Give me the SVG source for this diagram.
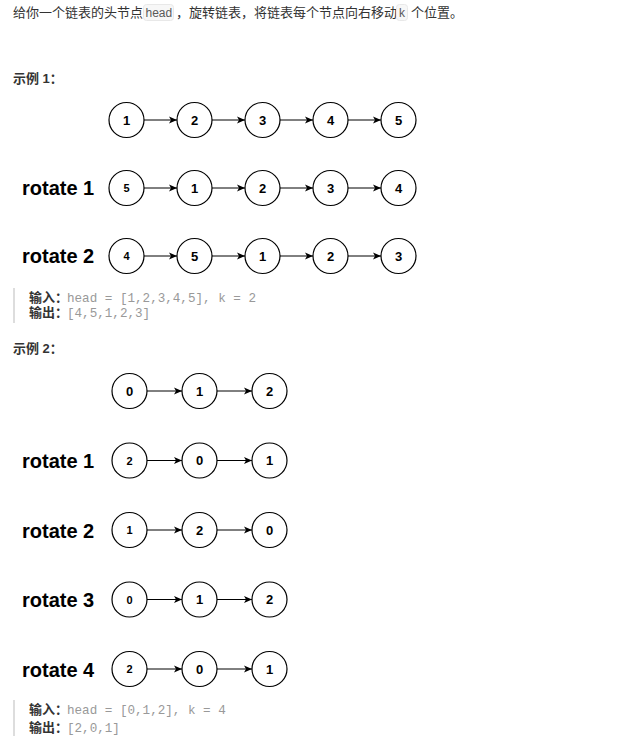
<svg xmlns="http://www.w3.org/2000/svg" width="622" height="748" viewBox="0 0 622 748">
<style>
.cjk{font-family:"Liberation Sans","Noto Sans CJK SC",sans-serif;font-size:13px;fill:#333}
.b{font-weight:bold}
.mono{font-family:"Liberation Mono","DejaVu Sans Mono",monospace;font-size:12.6px;fill:#999}
.code{font-family:"Liberation Sans",sans-serif;font-size:12px;fill:#5a5a5a}
.codebox{fill:#f7f7f7;stroke:#e8e8e8;stroke-width:1}
.lbl{font-family:"Liberation Sans",Arial,sans-serif;font-size:20px;font-weight:bold;fill:#000}
.node circle{fill:#fff;stroke:#000;stroke-width:1.2}
.node text{font-family:"Liberation Sans",Arial,sans-serif;font-weight:bold;font-size:13px;text-anchor:middle;fill:#000}
.node text.s{font-size:11px}
.conn line{stroke:#000;stroke-width:1;marker-end:url(#ah)}
.bar{stroke:#ddd;stroke-width:2}
</style>
<defs>
<marker id="ah" markerUnits="userSpaceOnUse" markerWidth="9" markerHeight="8" refX="8" refY="4" orient="auto">
<path d="M0,0.6 L8,4 L0,7.4 L2,4 Z" fill="#000"/>
</marker>
</defs>
<rect width="622" height="748" fill="#fff"/>
<g id="header">
<text class="cjk" x="13" y="17">给你一个链表的头节点</text>
<rect class="codebox" x="143.5" y="4.5" width="30" height="16" rx="3"/>
<text class="code" x="145.5" y="16.5">head</text>
<text class="cjk" x="176" y="17">，旋转链表，将链表每个节点向右移动</text>
<rect class="codebox" x="396.5" y="4.5" width="11" height="16" rx="3"/>
<text class="code" x="399" y="16.5">k</text>
<text class="cjk" x="411" y="17">个位置。</text>
</g>
<text class="cjk b" x="13" y="83">示例 1：</text>
<g id="labels1">
<text class="lbl" x="22" y="195">rotate 1</text>
<text class="lbl" x="22" y="263">rotate 2</text>
</g>
<g id="io1">
<line class="bar" x1="14" y1="288" x2="14" y2="323"/>
<text class="cjk b" x="29" y="302">输入：</text>
<text class="mono" x="67" y="302">head = [1,2,3,4,5], k = 2</text>
<text class="cjk b" x="29" y="317">输出：</text>
<text class="mono" x="67" y="317">[4,5,1,2,3]</text>
</g>
<text class="cjk b" x="13" y="353">示例 2：</text>
<g id="labels2">
<text class="lbl" x="22" y="468">rotate 1</text>
<text class="lbl" x="22" y="538">rotate 2</text>
<text class="lbl" x="22" y="607">rotate 3</text>
<text class="lbl" x="22" y="677">rotate 4</text>
</g>
<g id="io2">
<line class="bar" x1="14" y1="700" x2="14" y2="736"/>
<text class="cjk b" x="29" y="714">输入：</text>
<text class="mono" x="67" y="714">head = [0,1,2], k = 4</text>
<text class="cjk b" x="29" y="732">输出：</text>
<text class="mono" x="67" y="732">[2,0,1]</text>
</g>
<g id="connectors" class="conn">
<line x1="144" y1="120" x2="177" y2="120"/>
<line x1="212" y1="120" x2="245" y2="120"/>
<line x1="280" y1="120" x2="313" y2="120"/>
<line x1="348" y1="120" x2="381" y2="120"/>
<line x1="144" y1="188" x2="177" y2="188"/>
<line x1="212" y1="188" x2="245" y2="188"/>
<line x1="280" y1="188" x2="313" y2="188"/>
<line x1="348" y1="188" x2="381" y2="188"/>
<line x1="144" y1="256" x2="177" y2="256"/>
<line x1="212" y1="256" x2="245" y2="256"/>
<line x1="280" y1="256" x2="313" y2="256"/>
<line x1="348" y1="256" x2="381" y2="256"/>
<line x1="147" y1="391" x2="182" y2="391"/>
<line x1="217" y1="391" x2="252" y2="391"/>
<line x1="147" y1="460.5" x2="182" y2="460.5"/>
<line x1="217" y1="460.5" x2="252" y2="460.5"/>
<line x1="147" y1="530" x2="182" y2="530"/>
<line x1="217" y1="530" x2="252" y2="530"/>
<line x1="147" y1="599.5" x2="182" y2="599.5"/>
<line x1="217" y1="599.5" x2="252" y2="599.5"/>
<line x1="147" y1="669" x2="182" y2="669"/>
<line x1="217" y1="669" x2="252" y2="669"/>
</g>
<g id="nodes1">
<g id="e1r0n1" class="node"><circle cx="126.5" cy="120" r="17.5"/><text x="126.5" y="124.7">1</text></g>
<g id="e1r0n2" class="node"><circle cx="194.5" cy="120" r="17.5"/><text x="194.5" y="124.7">2</text></g>
<g id="e1r0n3" class="node"><circle cx="262.5" cy="120" r="17.5"/><text x="262.5" y="124.7">3</text></g>
<g id="e1r0n4" class="node"><circle cx="330.5" cy="120" r="17.5"/><text x="330.5" y="124.7">4</text></g>
<g id="e1r0n5" class="node"><circle cx="398.5" cy="120" r="17.5"/><text x="398.5" y="124.7">5</text></g>
<g id="e1r1n1" class="node"><circle cx="126.5" cy="188" r="17.5"/><text class="s" x="126.5" y="192">5</text></g>
<g id="e1r1n2" class="node"><circle cx="194.5" cy="188" r="17.5"/><text x="194.5" y="192.7">1</text></g>
<g id="e1r1n3" class="node"><circle cx="262.5" cy="188" r="17.5"/><text x="262.5" y="192.7">2</text></g>
<g id="e1r1n4" class="node"><circle cx="330.5" cy="188" r="17.5"/><text x="330.5" y="192.7">3</text></g>
<g id="e1r1n5" class="node"><circle cx="398.5" cy="188" r="17.5"/><text x="398.5" y="192.7">4</text></g>
<g id="e1r2n1" class="node"><circle cx="126.5" cy="256" r="17.5"/><text class="s" x="126.5" y="260">4</text></g>
<g id="e1r2n2" class="node"><circle cx="194.5" cy="256" r="17.5"/><text x="194.5" y="260.7">5</text></g>
<g id="e1r2n3" class="node"><circle cx="262.5" cy="256" r="17.5"/><text x="262.5" y="260.7">1</text></g>
<g id="e1r2n4" class="node"><circle cx="330.5" cy="256" r="17.5"/><text x="330.5" y="260.7">2</text></g>
<g id="e1r2n5" class="node"><circle cx="398.5" cy="256" r="17.5"/><text x="398.5" y="260.7">3</text></g>
</g>
<g id="nodes2">
<g id="e2r0n1" class="node"><circle cx="129.5" cy="391" r="17.5"/><text x="129.5" y="395.7">0</text></g>
<g id="e2r0n2" class="node"><circle cx="199.5" cy="391" r="17.5"/><text x="199.5" y="395.7">1</text></g>
<g id="e2r0n3" class="node"><circle cx="269.5" cy="391" r="17.5"/><text x="269.5" y="395.7">2</text></g>
<g id="e2r1n1" class="node"><circle cx="129.5" cy="460.5" r="17.5"/><text class="s" x="129.5" y="464.5">2</text></g>
<g id="e2r1n2" class="node"><circle cx="199.5" cy="460.5" r="17.5"/><text x="199.5" y="465.2">0</text></g>
<g id="e2r1n3" class="node"><circle cx="269.5" cy="460.5" r="17.5"/><text x="269.5" y="465.2">1</text></g>
<g id="e2r2n1" class="node"><circle cx="129.5" cy="530" r="17.5"/><text class="s" x="129.5" y="534">1</text></g>
<g id="e2r2n2" class="node"><circle cx="199.5" cy="530" r="17.5"/><text x="199.5" y="534.7">2</text></g>
<g id="e2r2n3" class="node"><circle cx="269.5" cy="530" r="17.5"/><text x="269.5" y="534.7">0</text></g>
<g id="e2r3n1" class="node"><circle cx="129.5" cy="599.5" r="17.5"/><text class="s" x="129.5" y="603.5">0</text></g>
<g id="e2r3n2" class="node"><circle cx="199.5" cy="599.5" r="17.5"/><text x="199.5" y="604.2">1</text></g>
<g id="e2r3n3" class="node"><circle cx="269.5" cy="599.5" r="17.5"/><text x="269.5" y="604.2">2</text></g>
<g id="e2r4n1" class="node"><circle cx="129.5" cy="669" r="17.5"/><text class="s" x="129.5" y="673">2</text></g>
<g id="e2r4n2" class="node"><circle cx="199.5" cy="669" r="17.5"/><text x="199.5" y="673.7">0</text></g>
<g id="e2r4n3" class="node"><circle cx="269.5" cy="669" r="17.5"/><text x="269.5" y="673.7">1</text></g>
</g>
</svg>
